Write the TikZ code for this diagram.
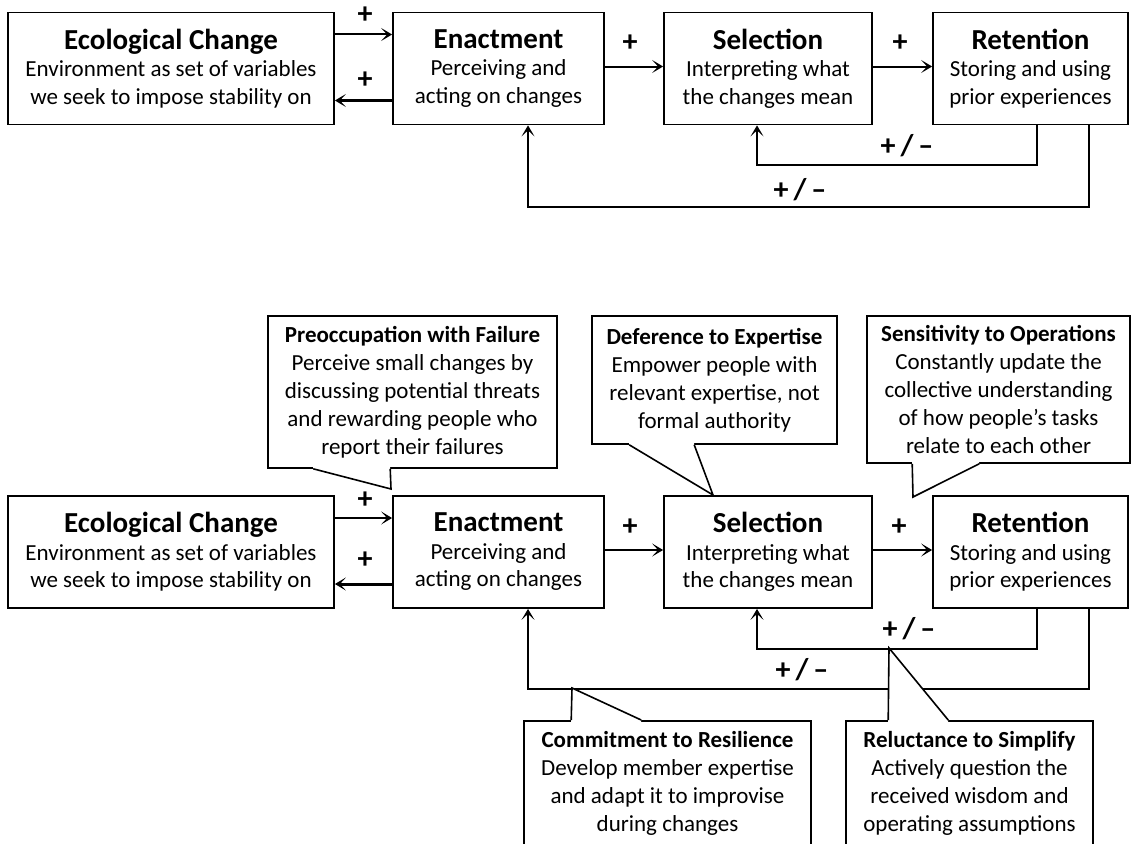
\documentclass[tikz,border=0pt]{standalone}
\usepackage{fontspec}
\setmainfont{Carlito}
\usetikzlibrary{arrows.meta,positioning}
\newcommand{\bxfont}{\fontsize{23}{27.5}\selectfont}
\newcommand{\ttl}{\fontsize{29}{30}\selectfont\bfseries}
\tikzset{bx/.style={draw,line width=1.8pt,align=center,inner sep=0pt,minimum height=112pt,font=\bxfont},
 cb/.style={draw,fill=white,line width=1.6pt,align=center,inner sep=0pt,font=\fontsize{23}{28}\selectfont},
 ar/.style={-{Stealth[length=11pt,width=13pt,inset=6pt]},line width=2pt},
 pl/.style={font=\fontsize{30}{31}\selectfont\bfseries,inner sep=1pt}}
% pointer of a callout: base a, tip, base b, shift into the box
\newcommand{\callptr}[4]{\fill[white] ([yshift=#4]#1) -- (#1) -- (#2) -- (#3) -- ([yshift=#4]#3) -- cycle;
 \draw[line width=1.6pt] (#1) -- (#2) -- (#3);}
\begin{document}
\begin{tikzpicture}[x=1pt,y=-1pt]
\useasboundingbox (0,0) rectangle (1134,843);\clip (0,0) rectangle (1134,843);
% upper model
\node[bx,minimum width=326pt](ecoA) at (171,68.5){{\ttl Ecological Change}\\Environment as set of variables\\we seek to impose stability on};
\node[bx,minimum width=211pt](enaA) at (498.5,68.5){{\ttl Enactment}\\Perceiving and\\acting on changes};
\node[bx,minimum width=208pt](selA) at (768,68.5){{\ttl Selection}\\Interpreting what\\the changes mean};
\node[bx,minimum width=195pt](retA) at (1030.5,68.5){{\ttl Retention}\\Storing and using\\prior experiences};
\draw[ar]([yshift=34pt]ecoA.east)--([yshift=34pt]enaA.west);\draw[ar,line width=3pt]([yshift=-32pt]enaA.west)--([yshift=-32pt]ecoA.east);
\draw[ar]([yshift=2pt]enaA.east)--([yshift=2pt]selA.west);\draw[ar]([yshift=2pt]selA.east)--([yshift=2pt]retA.west);
\draw[ar]([xshift=6pt]retA.south)--++(0,40)-|([xshift=-11pt]selA.south);
\draw[ar]([xshift=58pt]retA.south)--++(0,82)-|([xshift=29.5pt]enaA.south);
\node[pl](pA1) at (365,15){+};\node[pl](pA2) at (365,80){+};\node[pl](pA3) at (630,43){+};\node[pl](pA4) at (900,43){+};
\node[pl](pmA1) at (907,146){+\,/\,–};\node[pl](pmA2) at (800,190){+\,/\,–};
% lower model with the five principles
\node[bx,minimum width=326pt](ecoB) at (171,552){{\ttl Ecological Change}\\Environment as set of variables\\we seek to impose stability on};
\node[bx,minimum width=211pt](enaB) at (498.5,552){{\ttl Enactment}\\Perceiving and\\acting on changes};
\node[bx,minimum width=208pt](selB) at (768,552){{\ttl Selection}\\Interpreting what\\the changes mean};
\node[bx,minimum width=195pt](retB) at (1030.5,552){{\ttl Retention}\\Storing and using\\prior experiences};
\draw[ar]([yshift=34pt]ecoB.east)--([yshift=34pt]enaB.west);\draw[ar,line width=3pt]([yshift=-32pt]enaB.west)--([yshift=-32pt]ecoB.east);
\draw[ar]([yshift=2pt]enaB.east)--([yshift=2pt]selB.west);\draw[ar]([yshift=2pt]selB.east)--([yshift=2pt]retB.west);
\draw[ar]([xshift=6pt]retB.south)--++(0,40)-|([xshift=-11pt]selB.south);
\draw[ar]([xshift=58pt]retB.south)--++(0,80)-|([xshift=29.5pt]enaB.south);
\node[pl](pB1) at (365,500){+};\node[pl](pB2) at (365,560){+};\node[pl](pB3) at (630,527){+};\node[pl](pB4) at (899,527){+};
\node[pl](pmB1) at (909,629){+\,/\,–};\node[pl](pmB2) at (802,670){+\,/\,–};
% callouts
\node[cb,minimum width=289pt,minimum height=152pt](pre) at (412.5,392){{\bfseries Preoccupation with Failure}\\Perceive small changes by\\discussing potential threats\\and rewarding people who\\report their failures};
\node[cb,minimum width=245pt,minimum height=128pt](def) at (714.5,380){{\bfseries Deference to Expertise}\\Empower people with\\relevant expertise, not\\formal authority};
\node[cb,minimum width=263pt,minimum height=147pt](sen) at (998.5,389.5){{\bfseries Sensitivity to Operations}\\Constantly update the\\collective understanding\\of how people’s tasks\\relate to each other};
\node[cb,minimum width=287pt,inner ysep=11pt,anchor=north](com) at (667.5,720){{\bfseries Commitment to Resilience}\\Develop member expertise\\and adapt it to improvise\\during changes};
\node[cb,minimum width=247pt,inner ysep=11pt,anchor=north](rel) at (969.5,720){{\bfseries Reluctance to Simplify}\\Actively question the\\received wisdom and\\operating assumptions};
\coordinate(preA) at ([xshift=46pt]pre.south west);\coordinate(preB) at ([xshift=123pt]pre.south west);\coordinate(preT) at (391,489);
\coordinate(defA) at ([xshift=38pt]def.south west);\coordinate(defB) at ([xshift=103pt]def.south west);\coordinate(defT) at (713,495);
\coordinate(senA) at ([xshift=46pt]sen.south west);\coordinate(senB) at ([xshift=113pt]sen.south west);\coordinate(senT) at (913,497);
\coordinate(comA) at ([xshift=48pt]com.north west);\coordinate(comB) at ([xshift=118pt]com.north west);\coordinate(comT) at (572,688);
\coordinate(relA) at ([xshift=43pt]rel.north west);\coordinate(relB) at ([xshift=103pt]rel.north west);\coordinate(relT) at (889,648);
\callptr{preA}{preT}{preB}{2pt}\callptr{defA}{defT}{defB}{2pt}\callptr{senA}{senT}{senB}{2pt}
\callptr{comA}{comT}{comB}{-2pt}\callptr{relA}{relT}{relB}{-2pt}
\end{tikzpicture}
\end{document}
